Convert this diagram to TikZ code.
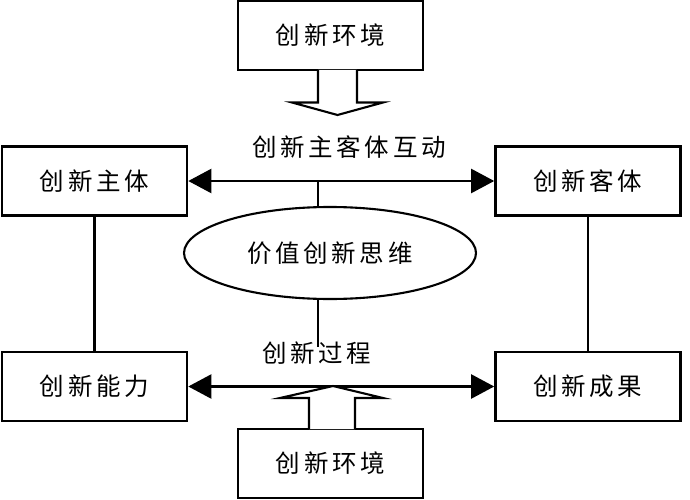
\documentclass[tikz,border=0pt]{standalone}
\usepackage{fontspec}
\newfontfamily\cjk{Noto Sans CJK SC}[LetterSpace=15]
\usetikzlibrary{shapes.geometric,arrows.meta}
\begin{document}
\begin{tikzpicture}[x=1pt,y=-1pt,
  box/.style={draw,rectangle,line width=2.6pt,minimum width=185pt,minimum height=69pt,inner sep=0pt,font=\cjk\fontsize{24.5}{28}\selectfont},
  ell/.style={draw,ellipse,line width=2.1pt,minimum width=292pt,minimum height=92pt,inner sep=0pt,font=\cjk\fontsize{24.5}{28}\selectfont},
  lbl/.style={inner sep=0pt,font=\cjk\fontsize{24.5}{28}\selectfont},
  conn/.style={line width=2.2pt},
  dbl/.style={line width=2.2pt,{Triangle[length=23pt,width=24pt]}-{Triangle[length=23pt,width=24pt]}},
  hollow/.style={line width=2.1pt,line join=miter,fill=white}]
\useasboundingbox (0,0) rectangle (690,500);
% boxes
\node[box] (envt) at (330.5,35.5) {\raisebox{-4.5pt}{创新环境}};
\node[box] (zt) at (94.5,181) {创新主体};
\node[box] (kt) at (588,181) {创新客体};
\node[box] (nl) at (94.5,386.5) {创新能力};
\node[box] (cg) at (588,386.5) {创新成果};
\node[box] (envb) at (330.5,463.5) {\raisebox{-4pt}{创新环境}};
\node[ell] (ell) at (330,253) {价值创新思维};
\node[lbl] (hd) at (349,147) {创新主客体互动};
\node[lbl] (gc) at (317,353) {创新过程};
% connectors
\draw[conn] (zt.south) -- (nl.north);
\draw[conn] (kt.south) -- (cg.north);
\draw[dbl] (zt.east) -- (kt.west);
\draw[dbl] (nl.east) -- (cg.west);
\coordinate (m1) at (318,181);
\coordinate (m2) at (318,347);
\draw[conn] (m1) -- (m1 |- ell.north);
\draw[conn] (m2 |- ell.south) -- (m2);
% hollow arrows
\draw[hollow] (318,70) -- (318,102.5) -- (292,102.5) -- (337.5,115) -- (383,102.5) -- (357,102.5) -- (357,70);
\draw[hollow] (309,429) -- (309,398) -- (280,398) -- (333,386) -- (383,398) -- (355,398) -- (355,429);
\end{tikzpicture}
\end{document}
